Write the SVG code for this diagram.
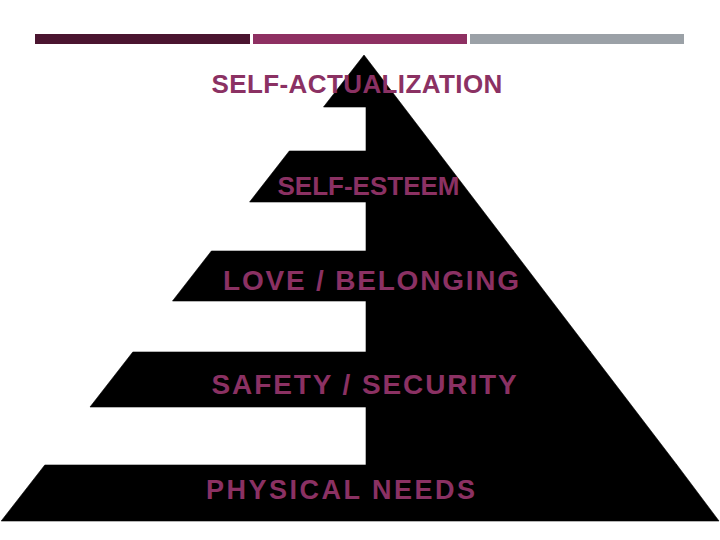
<svg xmlns="http://www.w3.org/2000/svg" width="720" height="540" viewBox="0 0 720 540">
  <style>
    .tier { fill: #000; stroke: #000; stroke-width: 0.6; stroke-linejoin: miter; }
    .lbl { font-family: "Liberation Sans", Arial, sans-serif; font-weight: bold; fill: #8B3163; }
  </style>
  <rect width="720" height="540" fill="#fff"/>
  <g id="header-bars">
    <rect x="35" y="34" width="215" height="10" fill="#4B1530"/>
    <rect x="253" y="34" width="214" height="10" fill="#8E3062"/>
    <rect x="470" y="34" width="214" height="10" fill="#9BA1A7"/>
  </g>
  <g id="connectors"></g>
  <g id="tier-physical">
    <path class="tier" d="M44.8,465 L677,465 L719,521 L1.2,521 Z"/>
    <text class="lbl" x="206" y="499" font-size="27" letter-spacing="2.5">PHYSICAL NEEDS</text>
  </g>
  <g id="tier-safety">
    <path class="tier" d="M132.8,352 L590.7,352 L677,465 L366,465 L366,407 L90,407 Z"/>
    <text class="lbl" x="211.5" y="394" font-size="28" letter-spacing="1.9">SAFETY / SECURITY</text>
  </g>
  <g id="tier-love">
    <path class="tier" d="M211.4,251 L513.6,251 L590.7,352 L366,352 L366,301 L172.5,301 Z"/>
    <text class="lbl" x="223" y="290" font-size="28" letter-spacing="1.8">LOVE / BELONGING</text>
  </g>
  <g id="tier-esteem">
    <path class="tier" d="M289.3,151 L437.3,151 L513.6,251 L366,251 L366,202 L249.6,202 Z"/>
    <text class="lbl" x="277.5" y="195" font-size="26">SELF-ESTEEM</text>
  </g>
  <g id="tier-actualization">
    <path class="tier" d="M364,55 L437.3,151 L366,151 L366,107 L323.5,107 Z"/>
    <text class="lbl" x="211.5" y="92.5" font-size="26" letter-spacing="0.4">SELF-ACTUALIZATION</text>
  </g>
</svg>
